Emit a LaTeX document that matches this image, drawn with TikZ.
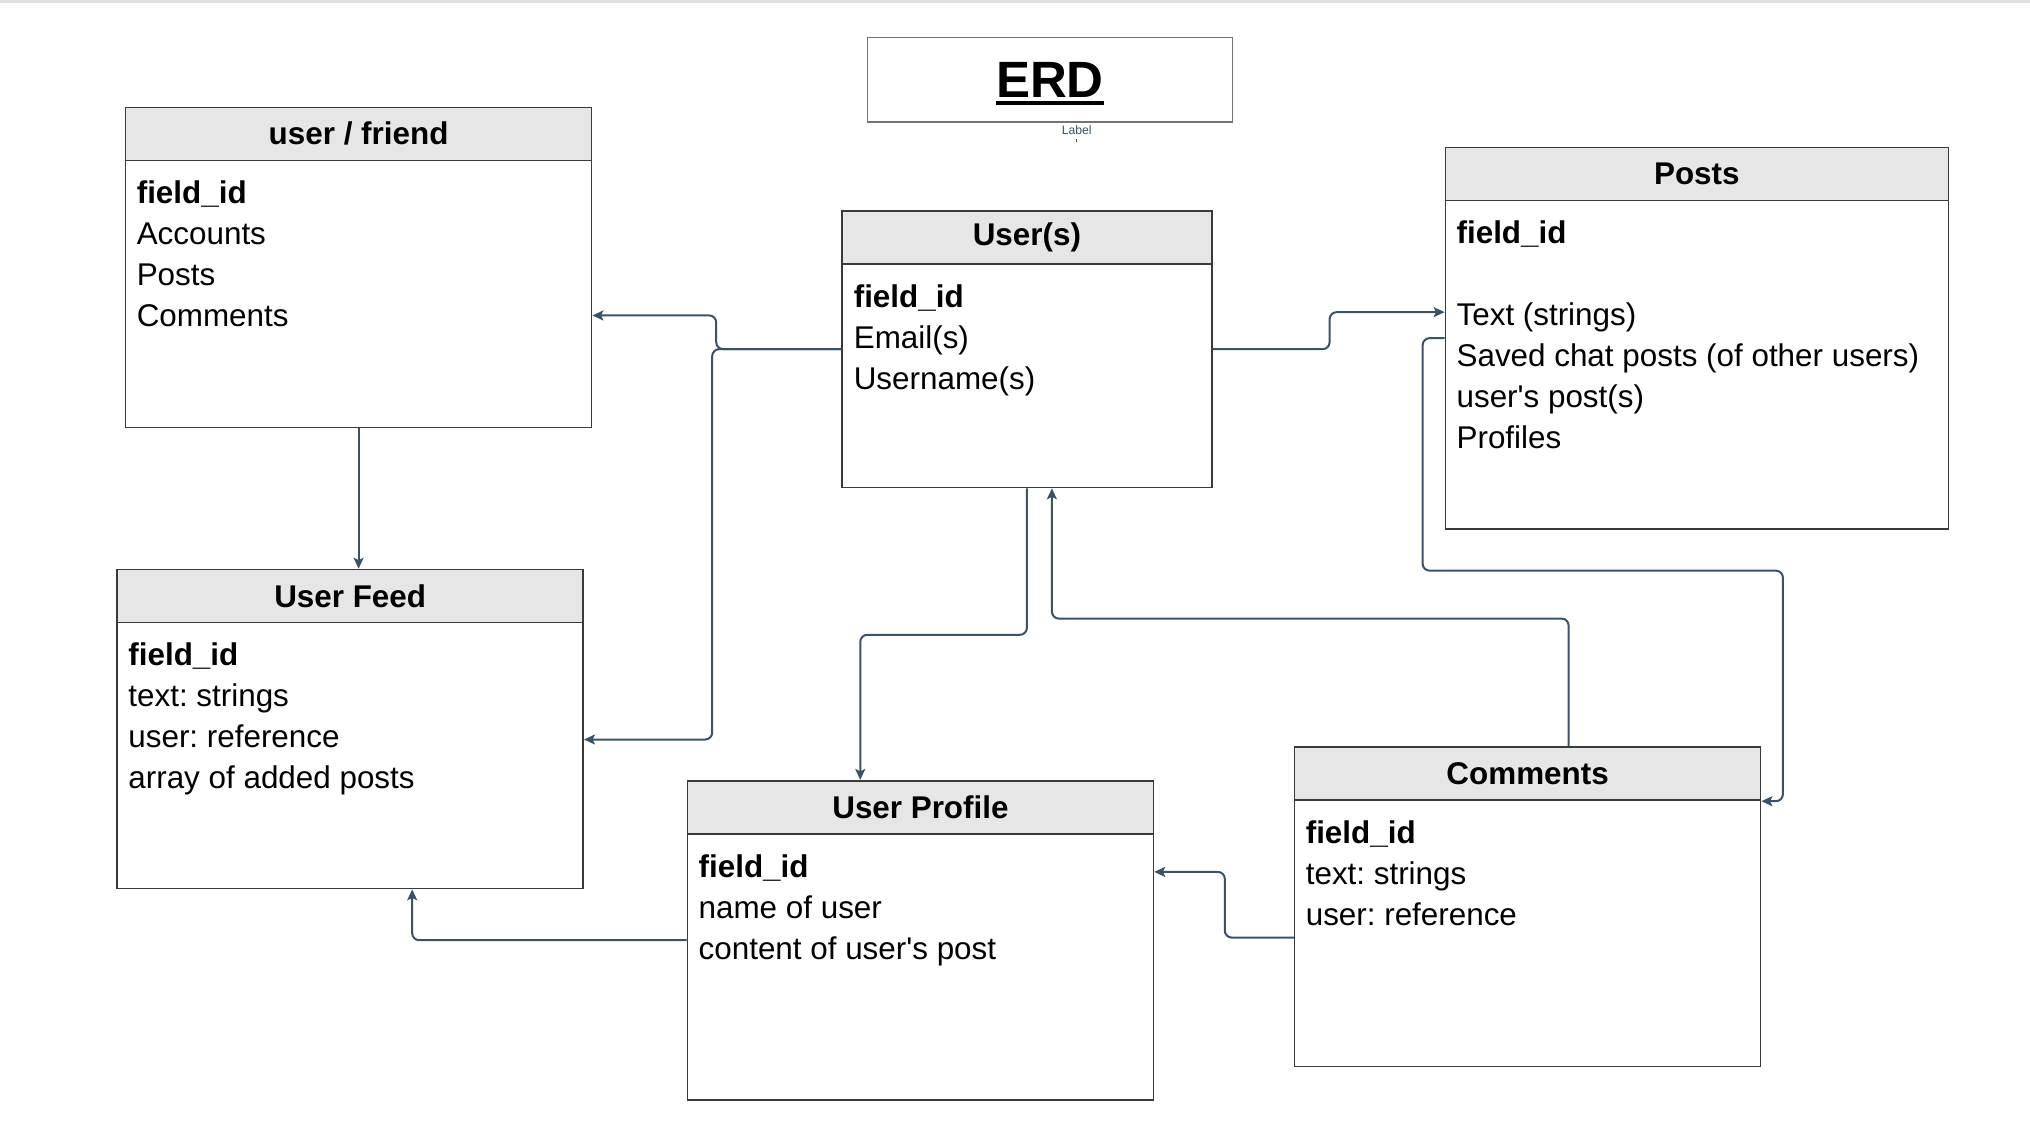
\documentclass[tikz,border=0pt]{standalone}
\usepackage{fontspec}
\setmainfont{Liberation Sans}
\usetikzlibrary{arrows.meta,calc}

\definecolor{linkc}{HTML}{3C5165}
\definecolor{boxline}{HTML}{3A3A3A}
\definecolor{hdrfill}{HTML}{E6E6E6}

\newlength\ulw
\newcommand{\thickul}[1]{\settowidth{\ulw}{#1}#1\raisebox{0pt}[0pt][0pt]{\llap{\rule[-4pt]{\ulw}{2.3pt}}}}

\tikzset{
  tbl/.style={draw=boxline, line width=0.8pt, inner sep=0pt},
  tblhead/.style={draw=boxline, line width=0.8pt, fill=hdrfill, inner sep=0pt,
    minimum height=26.5pt, anchor=north, font=\fontsize{15.7}{20.5}\selectfont\bfseries},
  tblrows/.style={inner sep=0pt, anchor=north west, align=left,
    font=\fontsize{15.7}{20.5}\selectfont\frenchspacing},
  link/.style={draw=linkc, line width=1pt, rounded corners=3.5pt,
    -{Stealth[length=5.5pt,width=5pt,inset=1.2pt]}},
}

\begin{document}
\begin{tikzpicture}[x=0.5pt, y=-0.5pt]
\useasboundingbox (0,0) rectangle (2030,1135);
\fill[black!12] (0,0) rectangle (2030,2.5);

% title
\node[draw=black!55, line width=0.8pt, minimum width=182.6pt, minimum height=42.45pt,
  inner sep=0pt, font=\fontsize{25.5}{30}\selectfont\bfseries] (erd) at (1049.9,79.75) {\thickul{ERD}};
\node[fill=white, inner sep=0.8pt, text=linkc, font=\fontsize{6.1}{7}\selectfont] (erdlbl) at (1076.7,130) {Label};
\draw[linkc, line width=0.6pt] ($(erdlbl.south)+(0,3)$) -- ++(0,3);

% user / friend
\node[tbl, minimum width=233pt, minimum height=160.05pt] (ufriend) at (358.6,267.45) {};
\node[tblhead, minimum width=233pt] (ufriendH) at (ufriend.north) {user / friend};
\node[tblrows] (ufriendT) at ([shift={(5.8pt,-9.7pt)}]ufriendH.south west)
  {\textbf{field\_id}\\Accounts\\Posts\\Comments};

% users
\node[tbl, minimum width=184.9pt, minimum height=138.35pt] (users) at (1026.9,349.15) {};
\node[tblhead, minimum width=184.9pt] (usersH) at (users.north) {User(s)};
\node[tblrows] (usersT) at ([shift={(6.1pt,-9.7pt)}]usersH.south west)
  {\textbf{field\_id}\\Email(s)\\Username(s)};

% posts
\node[tbl, minimum width=251.45pt, minimum height=190.55pt] (posts) at (1696.85,338.15) {};
\node[tblhead, minimum width=251.45pt] (postsH) at (posts.north) {Posts};
\node[tblrows] (postsT) at ([shift={(5.8pt,-9.7pt)}]postsH.south west)
  {\textbf{field\_id}\\[20.5pt]Text (strings)\\Saved chat posts (of other users)\\user\textquotesingle s post(s)\\Profiles};

% user feed
\node[tbl, minimum width=233pt, minimum height=159.5pt] (feed) at (350.2,729) {};
\node[tblhead, minimum width=233pt] (feedH) at (feed.north) {User Feed};
\node[tblrows] (feedT) at ([shift={(5.8pt,-9.7pt)}]feedH.south west)
  {\textbf{field\_id}\\text: strings\\user: reference\\array of added posts};

% user profile
\node[tbl, minimum width=233pt, minimum height=159.5pt] (profile) at (920.45,940.2) {};
\node[tblhead, minimum width=233pt] (profileH) at (profile.north) {User Profile};
\node[tblrows] (profileT) at ([shift={(5.8pt,-9.7pt)}]profileH.south west)
  {\textbf{field\_id}\\name of user\\content of user\textquotesingle s post};

% comments
\node[tbl, minimum width=233pt, minimum height=159.9pt] (comments) at (1527.6,906.6) {};
\node[tblhead, minimum width=233pt] (commentsH) at (comments.north) {Comments};
\node[tblrows] (commentsT) at ([shift={(5.8pt,-9.7pt)}]commentsH.south west)
  {\textbf{field\_id}\\text: strings\\user: reference};

% links
\coordinate (cmIn) at ($(comments.north east)+(0,55.3)$);
\draw[link] (users.west) -- ++(-125,0) |- ($(ufriend.east)+(0,48)$);
\draw[link] (users.west) -- ++(-129,0) |- ($(feed.east)+(0,10.5)$);
\draw[link] (users.east) -- ++(117,0) |- ($(posts.west)+(0,-26)$);
\draw[link] (posts.west) -- ++(-22,0) -- ++(0,232.5) -| ($(cmIn)+(21.5,0)$) -- (cmIn);
\draw[link] ($(comments.north)+(41,0)$) -- ++(0,-127.3) -| ($(users.south)+(25,0)$);
\draw[link] (users.south) -- ++(0,146.5) -| ($(profile.north)+(-60.2,0)$);
\draw[link] ($(comments.west)+(0,31)$) -- ++(-69,0) |- ($(profile.east)+(0,-68.3)$);
\draw[link] (profile.west) -| ($(feed.south)+(62,0)$);
\draw[link] (ufriend.south) -- (ufriend.south |- feed.north);
\end{tikzpicture}
\end{document}
